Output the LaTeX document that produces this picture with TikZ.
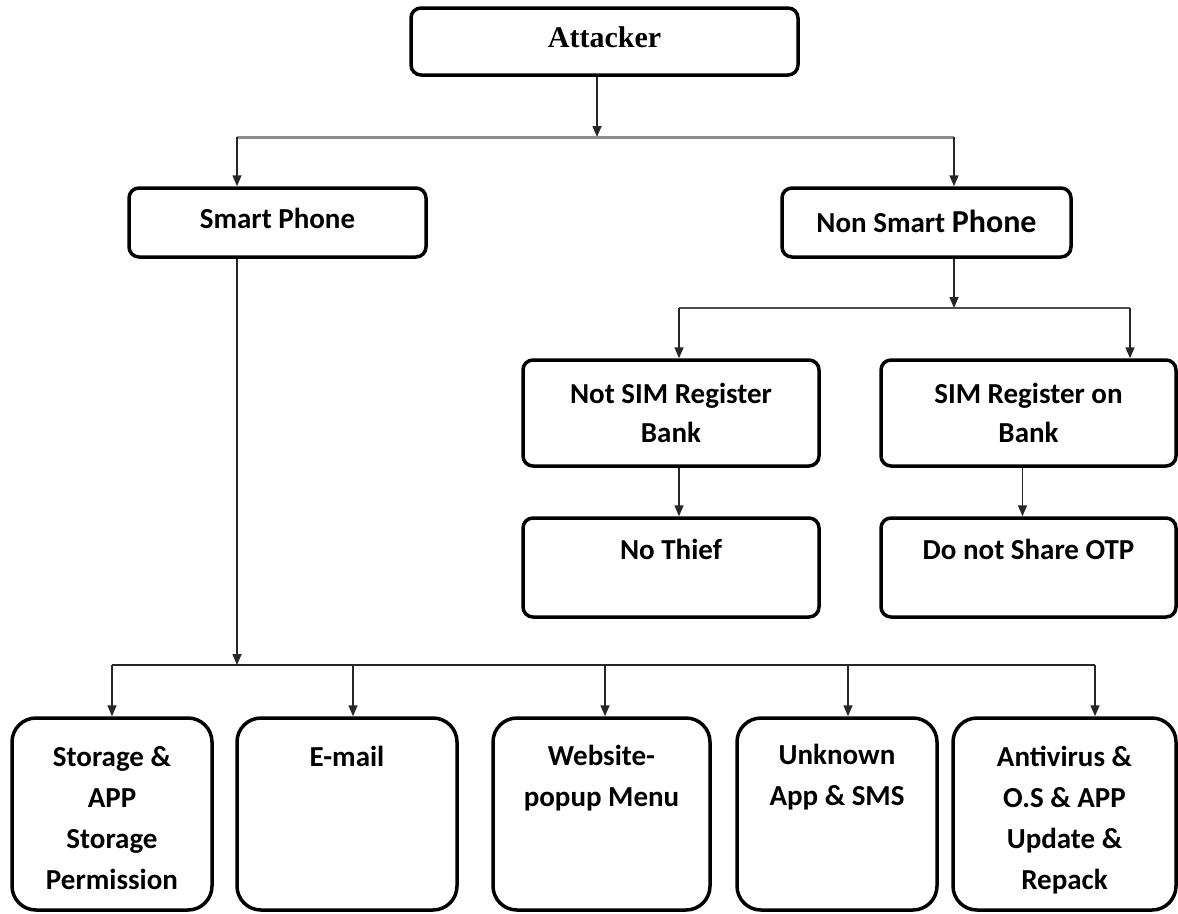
\documentclass[tikz,border=0pt]{standalone}
\usepackage{fontspec}
\setmainfont{Carlito}
\newfontfamily\serifbf{Liberation Serif}
\usetikzlibrary{arrows.meta,calc}
\tikzset{
  box/.style={draw=black, line width=3.5pt, rounded corners=10pt, fill=white, inner sep=0pt, align=center},
  bigbox/.style={box, rounded corners=24pt},
  txt/.style={inner sep=0pt, align=center, font=\fontsize{29}{41}\selectfont\bfseries},
  conn/.style={line width=1.5pt, draw=black!85},
  arr/.style={conn, -{Triangle[length=11pt,width=9pt]}},
}
\begin{document}
\begin{tikzpicture}[x=1pt,y=-1pt]
\useasboundingbox (0,0) rectangle (1178,913);
% boxes
\node[box, minimum width=387pt, minimum height=67pt] (att) at (604.5,41.5) {};
\node[box, minimum width=297pt, minimum height=69pt] (sp) at (277.5,222.5) {};
\node[box, minimum width=289pt, minimum height=69pt] (nsp) at (926.5,222.5) {};
\node[box, minimum width=296pt, minimum height=106pt, font=\fontsize{29}{39}\selectfont\bfseries] (nsr) at (671,413) {Not SIM Register\\Bank};
\node[box, minimum width=295pt, minimum height=106pt, font=\fontsize{29}{39}\selectfont\bfseries] (sr) at (1028.5,413) {SIM Register on\\Bank};
\node[box, minimum width=296pt, minimum height=99pt] (nt) at (671,567.5) {};
\node[box, minimum width=295pt, minimum height=99pt] (otp) at (1028.5,567.5) {};
\node[bigbox, minimum width=200pt, minimum height=192pt] (b1) at (112,814) {};
\node[bigbox, minimum width=220pt, minimum height=192pt] (b2) at (347,814) {};
\node[bigbox, minimum width=217pt, minimum height=192pt] (b3) at (601.5,814) {};
\node[bigbox, minimum width=200pt, minimum height=192pt] (b4) at (837,814) {};
\node[bigbox, minimum width=223pt, minimum height=192pt] (b5) at (1064.5,814) {};
% texts
\node[inner sep=0pt, font=\serifbf\fontsize{30}{32}\selectfont\bfseries] (tatt) at ([yshift=4pt]att.center) {Attacker};
\node[txt] (tsp) at ([yshift=4pt]sp.center) {Smart Phone};
\node[txt] (tnsp) at ([yshift=1pt]nsp.center) {Non Smart {\fontsize{32}{32}\selectfont Phone}};
\node[txt, anchor=north] (tnt) at ([yshift=-23pt]nt.north) {No Thief};
\node[txt, anchor=north] (totp) at ([yshift=-23pt]otp.north) {Do not Share OTP};
\node[txt, anchor=north] (tb1) at ([yshift=-30pt]b1.north) {Storage \&\\APP\\Storage\\Permission};
\node[txt, anchor=north] (tb2) at ([yshift=-30pt]b2.north) {E-mail};
\node[txt, anchor=north] (tb3) at ([yshift=-29pt]b3.north) {Website-\\popup Menu};
\node[txt, anchor=north] (tb4) at ([yshift=-28pt]b4.north) {Unknown\\App \& SMS};
\node[txt, anchor=north] (tb5) at ([yshift=-30pt]b5.north) {Antivirus \&\\O.S \& APP\\Update \&\\Repack};
% junction coordinates
\coordinate (j0) at (597,137);
\coordinate (jl) at (237,137);
\coordinate (jr) at (954,137);
\coordinate (k0) at (954,308);
\coordinate (kl) at (679,308);
\coordinate (kr) at (1130,308);
\coordinate (m0) at (237,665);
\coordinate (m1) at (112,665);
\coordinate (m2) at (353,665);
\coordinate (m3) at (605,665);
\coordinate (m4) at (848,665);
\coordinate (m5) at (1095,665);
% connectors
\draw[arr] (att.south -| j0) -- (j0);
\draw[line width=3pt, draw=black!45] (jl) -- (jr);
\draw[arr] (jl) -- (jl |- sp.north);
\draw[arr] (jr) -- (jr |- nsp.north);
\draw[arr] (nsp.south -| k0) -- (k0);
\draw[line width=2pt, draw=black!70] (kl) -- (kr);
\draw[arr] (kl) -- (kl |- nsr.north);
\draw[arr] (kr) -- (kr |- sr.north);
\draw[arr] (nsr.south -| kl) -- (kl |- nt.north);
\draw[arr] ($(sr.south)+(-6,0)$) -- ($(otp.north)+(-6,0)$);
\draw[arr] (sp.south -| m0) -- (m0);
\draw[conn] (m1) -- (m5);
\foreach \i in {1,...,5} {\draw[arr] (m\i) -- (m\i |- b\i.north);}
\end{tikzpicture}
\end{document}
